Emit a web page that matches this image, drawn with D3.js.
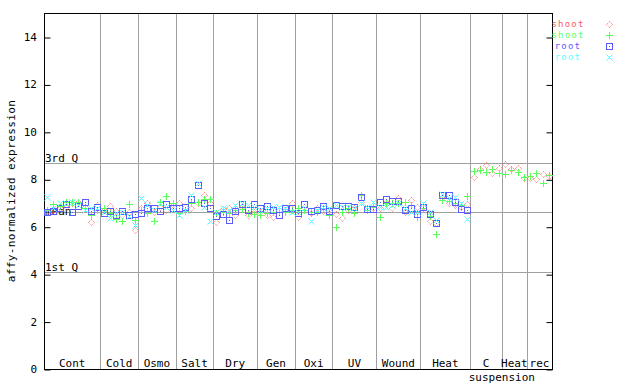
<!DOCTYPE html>
<html><head><meta charset="utf-8">
<script src="https://cdn.jsdelivr.net/npm/d3@7"></script>
<style>
html,body{margin:0;padding:0;background:#fff;}
text{font-family:"DejaVu Sans Mono",monospace;font-size:11px;}
</style></head>
<body><svg id="c" width="640" height="384"></svg>
<script>
const groups = ["Cont","Cold","Osmo","Salt","Dry","Gen","Oxi","UV","Wound","Heat","C","Heat","rec"];
const groupSizes = [9,6,6,6,7,6,6,7,7,8,5,4,4];
const subLabel = "suspension";
const yTicks = [0,2,4,6,8,10,12,14];
const refValues = [8.68, 6.61, 4.08];
const refLabels = ["3rd Q", "mean", "1st Q"];
const seriesNames = ["shoot","shoot","root","root"];

const shootRed = [
 6.65,6.70,6.81,6.84,6.99,7.06,6.84,6.18,6.92,
 6.71,6.89,6.68,6.50,6.60,5.88,
 6.81,7.02,6.64,6.84,6.71,6.92,
 6.99,6.84,6.81,7.02,7.35,6.99,
 6.18,6.75,6.81,6.50,6.84,6.50,6.64,
 6.64,6.50,6.40,6.71,6.71,6.99,
 6.42,6.84,6.57,6.78,6.67,6.57,
 6.53,6.35,6.71,6.78,7.06,6.78,6.78,
 6.78,7.06,6.78,7.20,6.64,7.13,6.84,
 6.85,6.26,6.17,7.20,7.00,6.92,6.85,6.96,
 8.08,8.43,8.60,8.28,8.49,
 8.65,8.42,8.49,8.07,
 8.04,8.00,8.22,8.12];
const shootGreen = [
 6.71,6.95,6.88,7.06,7.03,7.06,6.78,6.50,6.71,
 6.78,6.57,6.32,6.25,6.97,6.30,
 6.71,6.57,6.24,7.06,7.30,7.00,
 6.57,6.67,6.99,7.06,7.16,7.16,
 6.57,6.64,6.57,6.71,6.74,6.57,6.54,
 6.50,6.57,6.60,6.64,6.60,6.71,
 6.78,6.71,6.64,6.64,6.78,6.50,
 6.00,6.60,6.78,6.59,7.35,6.71,6.84,
 6.42,6.99,6.99,7.02,7.03,6.92,6.40,
 6.80,6.45,5.69,7.13,7.10,7.00,6.90,7.30,
 8.35,8.39,8.32,8.43,8.28,
 8.22,8.39,8.32,8.11,
 8.14,8.25,7.83,8.18];
const rootBlue = [
 6.61,6.66,6.80,6.95,6.61,6.88,7.03,6.68,6.84,
 6.57,6.68,6.50,6.68,6.50,6.54,
 6.57,6.81,6.78,6.68,6.97,6.81,
 6.81,6.84,7.17,7.76,6.99,6.81,
 6.45,6.54,6.28,6.68,6.95,6.71,6.95,
 6.78,6.89,6.71,6.50,6.81,6.80,
 6.57,6.95,6.68,6.71,6.88,6.68,
 6.92,6.88,6.88,6.84,7.24,6.75,6.74,
 7.03,7.16,7.10,7.10,6.71,6.78,6.53,
 6.82,6.52,6.14,7.34,7.34,7.06,6.75,6.71,
 null,null,null,null,null,null,null,null,null,null,null,null,null];
const rootCyan = [
 7.24,6.78,6.99,6.99,7.03,6.92,6.71,6.78,6.78,
 6.64,6.35,6.57,6.60,6.45,6.07,
 7.20,6.92,6.71,7.02,6.84,6.71,
 6.50,6.71,7.33,7.83,6.84,6.25,
 6.64,6.78,6.71,6.92,6.99,6.92,6.84,
 6.71,6.78,6.84,6.84,6.78,6.64,
 6.64,6.78,6.25,6.71,6.84,6.78,
 6.92,6.84,6.84,6.78,6.99,6.84,7.03,
 6.84,6.84,6.92,6.99,6.78,6.64,6.64,
 7.00,6.60,6.30,7.38,7.20,7.24,7.02,6.31,
 null,null,null,null,null,null,null,null,null,null,null,null,null];

const colors = ["#ff5a5a","#5aff5a","#5a5aff","#5affff"];
const shapes = ["diamond","plus","square","cross"];
const series = [shootRed, shootGreen, rootBlue, rootCyan];

const L = 44, R = 552, T = 13, B = 369;
const n = shootRed.length;
const svg = d3.select("#c");
const x = d3.scaleBand().domain(d3.range(n)).range([L, R]).padding(0);
const y = d3.scaleLinear().domain([0, 14]).range([B, 37]);
const cx = i => Math.round(x(i) + x.bandwidth()/2) + 0.5;
const cy = v => Math.round(y(v)) + 0.5;

// group separators
let cum = 0;
const bounds = [];
groupSizes.forEach(s => { bounds.push(cum); cum += s; });
const grid = svg.append("g").attr("stroke","#a0a0a0").attr("stroke-width",1);
bounds.slice(1).forEach(b => {
  const xx = Math.round(x(b)) + 0.5;
  grid.append("line").attr("x1",xx).attr("x2",xx).attr("y1",T).attr("y2",B);
});
// reference lines
refValues.forEach((v,k) => {
  const yy = cy(v);
  grid.append("line").attr("x1",L).attr("x2",R).attr("y1",yy).attr("y2",yy);
  svg.append("text").attr("x",L+1).attr("y", k===1 ? yy+2 : yy-2).attr("fill","#000").text(refLabels[k]);
});

// axes
const yAxisL = d3.axisRight(y).tickValues(yTicks).tickSize(6).tickFormat("");
const gL = svg.append("g").attr("transform",`translate(${L+0.5},0)`).call(yAxisL);
gL.select(".domain").remove();
gL.selectAll("line").attr("stroke","#000").attr("transform","translate(0,0.5)");
const yAxisR = d3.axisLeft(y).tickValues(yTicks).tickSize(6).tickFormat("");
const gR = svg.append("g").attr("transform",`translate(${R+0.5},0)`).call(yAxisR);
gR.select(".domain").remove();
gR.selectAll("line").attr("stroke","#000").attr("transform","translate(0,0.5)");
yTicks.forEach(t => {
  svg.append("text").attr("x",37).attr("y",Math.round(y(t))+4).attr("text-anchor","end").text(t);
});
svg.append("rect").attr("x",L+0.5).attr("y",T+0.5).attr("width",R-L).attr("height",B-T)
  .attr("fill","none").attr("stroke","#000").attr("stroke-width",1);

// group labels
groups.forEach((g,k) => {
  const a = x(bounds[k]), b = bounds[k]+groupSizes[k] < n ? x(bounds[k]+groupSizes[k]) : R;
  svg.append("text").attr("x",(a+b)/2).attr("y",367).attr("text-anchor","middle").text(g);
  if (g === "C") {
    svg.append("text").attr("x",b).attr("y",381).attr("text-anchor","middle").text(subLabel);
  }
});

// y title
svg.append("text").attr("transform","translate(15,191) rotate(-90)").attr("text-anchor","middle")
  .attr("letter-spacing","0.4px").text("affy-normalized expression");

function marker(g, shape, px, py, col) {
  const s = 3;
  if (shape === "diamond") {
    g.append("path").attr("d",`M${px},${py-s}L${px+s},${py}L${px},${py+s}L${px-s},${py}Z`)
      .attr("fill","none").attr("stroke",col).attr("stroke-dasharray","1,1");
  } else if (shape === "plus") {
    g.append("path").attr("d",`M${px-s-0.5},${py}H${px+s+0.5}M${px},${py-s-0.5}V${py+s+0.5}`).attr("stroke",col);
  } else if (shape === "square") {
    g.append("rect").attr("x",px-s).attr("y",py-s).attr("width",2*s).attr("height",2*s).attr("fill","none").attr("stroke",col);
    g.append("rect").attr("x",px-0.5).attr("y",py-0.5).attr("width",1).attr("height",1).attr("fill",col);
  } else {
    g.append("path").attr("d",`M${px-s},${py-s}L${px+s},${py+s}M${px-s},${py+s}L${px+s},${py-s}`).attr("stroke",col);
  }
}

series.forEach((arr,k) => {
  const g = svg.append("g").attr("stroke-width",1);
  arr.forEach((v,i) => { if (v !== null) marker(g, shapes[k], cx(i), cy(v), colors[k]); });
});

// legend
seriesNames.forEach((nm,k) => {
  const ly = 24 + k*11;
  svg.append("text").attr("x",568).attr("y",ly+3).attr("text-anchor","middle").attr("fill",colors[k])
    .style("font-size","9px").attr("letter-spacing","1.2px").text(nm);
  marker(svg.append("g").attr("stroke-width",1), shapes[k], 609.5, ly+0.5, colors[k]);
});
</script></body></html>
